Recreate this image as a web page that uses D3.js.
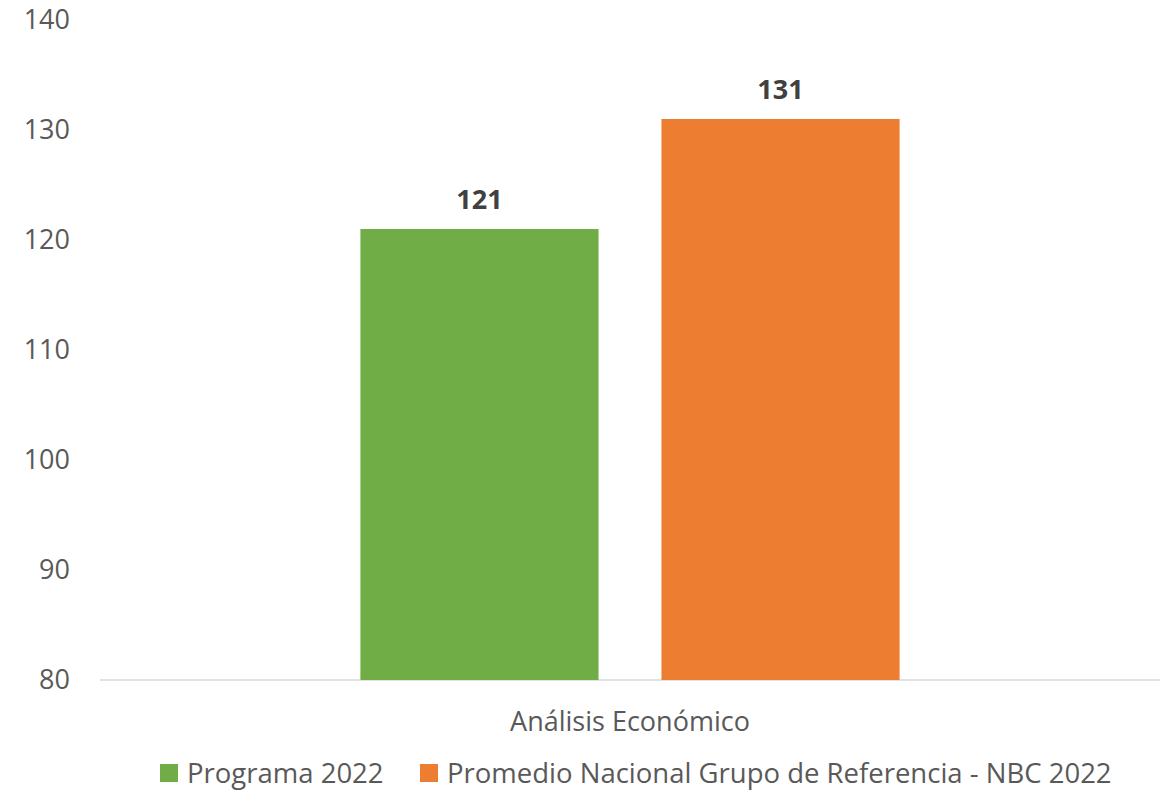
<!DOCTYPE html>
<html>
<head>
<meta charset="utf-8">
<script src="https://cdn.jsdelivr.net/npm/d3@7"></script>
<style>
  body { margin: 0; background: #fff; }
  svg text { font-family: "Open Sans", "Noto Sans", sans-serif; }
</style>
</head>
<body>
<div id="chart"></div>
<script>
// chart data
var categories = ["Análisis Económico"];
var seriesNames = ["Programa 2022", "Promedio Nacional Grupo de Referencia - NBC 2022"];
var seriesValues = [121, 131];
var seriesColors = ["#70ad47", "#ed7d31"];
var yTicks = [80, 90, 100, 110, 120, 130, 140];

var width = 1174, height = 793;
var margin = {top: 20, right: 14, bottom: 113, left: 100};

var svg = d3.select("#chart")
  .append("svg")
  .attr("width", width)
  .attr("height", height);

var y = d3.scaleLinear()
  .domain([80, 140])
  .range([height - margin.bottom, margin.top]);

var x0 = d3.scaleBand()
  .domain(categories)
  .range([margin.left, width - margin.right]);

var x1 = d3.scaleBand()
  .domain(seriesNames)
  .range([0, x0.bandwidth()])
  .paddingInner(0.209)
  .paddingOuter(0.865);

// y axis labels (no line)
var yAxis = svg.append("g")
  .attr("transform", "translate(" + (margin.left - 30) + ",0)")
  .call(d3.axisLeft(y).tickValues(yTicks).tickSize(0).tickPadding(0));
yAxis.select(".domain").remove();
yAxis.selectAll("text")
  .style("font-size", "27px")
  .style("fill", "#595959");

// baseline
svg.append("line")
  .attr("x1", margin.left)
  .attr("x2", width - margin.right)
  .attr("y1", y(80))
  .attr("y2", y(80))
  .attr("stroke", "#d9d9d9")
  .attr("stroke-width", 1.5);

var data = seriesNames.map(function(s, i){
  return {cat: categories[0], name: s, value: seriesValues[i], color: seriesColors[i]};
});

var groups = svg.selectAll(".group")
  .data(categories)
  .enter()
  .append("g")
  .attr("transform", function(d){ return "translate(" + x0(d) + ",0)"; });

groups.selectAll("rect")
  .data(data)
  .enter()
  .append("rect")
  .attr("x", function(d){ return x1(d.name); })
  .attr("width", x1.bandwidth())
  .attr("y", function(d){ return y(d.value); })
  .attr("height", function(d){ return y(80) - y(d.value); })
  .attr("fill", function(d){ return d.color; });

// value labels
groups.selectAll(".lbl")
  .data(data)
  .enter()
  .append("text")
  .attr("class", "lbl")
  .attr("x", function(d){ return x1(d.name) + x1.bandwidth() / 2; })
  .attr("y", function(d){ return y(d.value) - 20; })
  .attr("text-anchor", "middle")
  .style("font-size", "27px")
  .style("font-weight", "bold")
  .style("fill", "#404040")
  .text(function(d){ return d.value; });

// category label
svg.selectAll(".cat")
  .data(categories)
  .enter()
  .append("text")
  .attr("x", function(d){ return x0(d) + x0.bandwidth() / 2; })
  .attr("y", y(80) + 51)
  .attr("text-anchor", "middle")
  .style("font-size", "27px")
  .style("fill", "#595959")
  .text(function(d){ return d; });

// legend
var legendX = [160, 420];
var legend = svg.selectAll(".legend")
  .data(data)
  .enter()
  .append("g")
  .attr("transform", function(d, i){ return "translate(" + legendX[i] + ",764)"; });

legend.append("rect")
  .attr("width", 18)
  .attr("height", 18)
  .attr("fill", function(d){ return d.color; });

legend.append("text")
  .attr("x", 27)
  .attr("y", 19)
  .style("font-size", "27.5px")
  .style("fill", "#595959")
  .text(function(d){ return d.name; });
</script>
</body>
</html>
